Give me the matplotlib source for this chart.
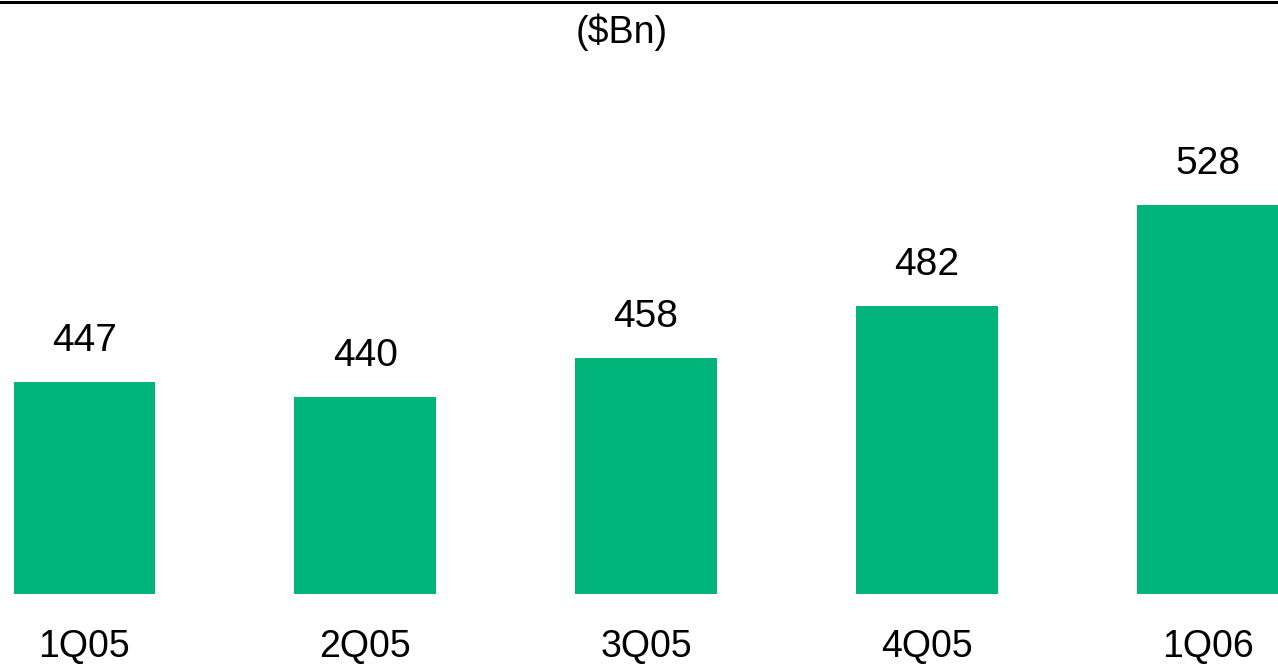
import matplotlib
matplotlib.use("Agg")
import matplotlib.pyplot as plt
from matplotlib.lines import Line2D

categories = ["1Q05", "2Q05", "3Q05", "4Q05", "1Q06"]
values = [447, 440, 458, 482, 528]
unit_label = "($Bn)"

plt.rcParams['font.family'] = ['Liberation Sans', 'DejaVu Sans']

W, H = 1278, 665
fig = plt.figure(figsize=(W / 100, H / 100), dpi=100)
ax = fig.add_axes([0, (H - 594) / H, 1, 594 / H])

x = list(range(len(categories)))
bars = ax.bar(x, values, width=0.505, color="#00B47A", edgecolor="none")

ax.set_xlim(-0.3007, 4.25)
ax.set_ylim(350, 621.9)

for xi, v in zip(x, values):
    ax.annotate(str(v), xy=(xi, v), xytext=(0, 41 * 0.72), textcoords="offset points",
                ha="center", va="center", fontsize=28)

ax.set_xticks(x)
ax.set_xticklabels(categories, fontsize=27)
for lab in ax.get_xticklabels():
    lab.set_va("center")
ax.tick_params(axis="x", length=0, pad=53 * 0.72)
ax.set_yticks([])
for s in ax.spines.values():
    s.set_visible(False)

fig.text(622 / W, 1 - 32 / H, unit_label, ha="center", va="center", fontsize=27)
fig.add_artist(Line2D([0, 1], [1 - 1.5 / H, 1 - 1.5 / H], transform=fig.transFigure,
                      color="black", linewidth=3 * 0.72))

fig.savefig("out.png", dpi=100)
